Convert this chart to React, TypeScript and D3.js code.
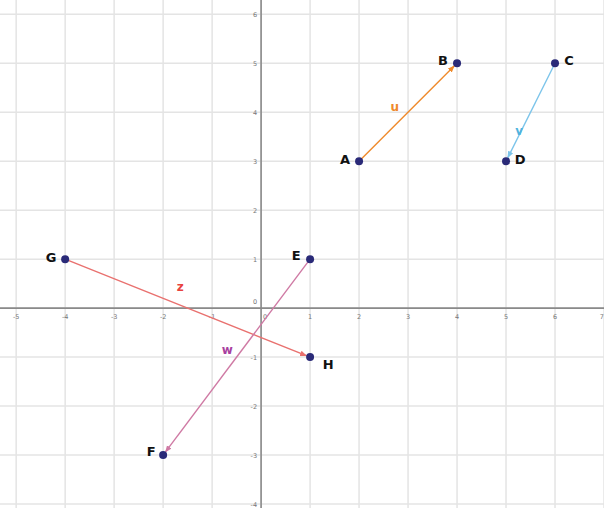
import * as d3 from 'd3';

// points
const pointNames = ['A', 'B', 'C', 'D', 'E', 'F', 'G', 'H'];
const pointX = [2, 4, 6, 5, 1, -2, -4, 1];
const pointY = [3, 5, 5, 3, 1, -3, 1, -1];
// label offsets in px (dx, dy) around each point
const labelDx = [-14, -14, 14, 14, -14, -12, -14, 18];
const labelDy = [-1, -2, -2, -1, -3, -3, -1, 8];

// vectors: name, from, to, colour, label position
const vecNames = ['u', 'v', 'z', 'w'];
const vecFrom = ['A', 'C', 'G', 'E'];
const vecTo = ['B', 'D', 'H', 'F'];
const vecColors = ['#ef8a2b', '#7cc4ea', '#e9716f', '#cf7aa4'];
const vecLabelColors = ['#ef8a2b', '#4fb3de', '#e8433e', '#a83fa0'];
const vecLabelX = [2.73, 5.27, -1.65, -0.69];
const vecLabelY = [4.1, 3.6, 0.43, -0.86];

const xTicks = d3.range(-5, 8);
const yTicks = d3.range(-4, 7);

const W = 604;
const H = 508;

export default function App() {
  const x = d3.scaleLinear().domain([-5.33, 7.0]).range([0, W]);
  const y = d3.scaleLinear().domain([6.29, -4.08]).range([0, H]);
  const idx = (n: string) => pointNames.indexOf(n);

  return (
    <>
      <style>{`body{margin:0}`}</style>
      <svg width={W} height={H} style={{ display: 'block', fontFamily: 'DejaVu Sans, sans-serif' }}>
        <rect width={W} height={H} fill="#fff" />
        <defs>
          {vecColors.map((c, i) => (
            <marker key={i} id={`arr${i}`} viewBox="0 0 10 10" refX="9" refY="5" markerWidth="5" markerHeight="5" orient="auto">
              <path d="M0,1 L10,5 L0,9 z" fill={c} />
            </marker>
          ))}
        </defs>
        {/* grid */}
        {xTicks.map((t) => (
          <line key={'gx' + t} x1={x(t)} x2={x(t)} y1={0} y2={H} stroke="#e4e4e4" strokeWidth={1.5} />
        ))}
        {yTicks.map((t) => (
          <line key={'gy' + t} x1={0} x2={W} y1={y(t)} y2={y(t)} stroke="#e4e4e4" strokeWidth={1.5} />
        ))}
        {/* axes */}
        <line x1={0} x2={W} y1={y(0)} y2={y(0)} stroke="#8a8a8a" strokeWidth={1.6} />
        <line x1={x(0)} x2={x(0)} y1={0} y2={H} stroke="#8a8a8a" strokeWidth={1.6} />
        {xTicks.map((t) => (
          <text key={'tx' + t} x={x(t) + (t === 0 ? 4 : 0)} y={y(0) + 11} fontSize={6.5} fill="#777"
            textAnchor={t === 7 ? 'end' : 'middle'}>
            {t}
          </text>
        ))}
        {yTicks.map((t) => (
          <text key={'ty' + t} x={x(0) - 4} y={y(t) + (t === 0 ? -4 : 2.5)} fontSize={6.5} fill="#777" textAnchor="end">
            {t}
          </text>
        ))}
        {/* vectors */}
        {vecNames.map((n, i) => {
          const a = idx(vecFrom[i]);
          const b = idx(vecTo[i]);
          const x1 = x(pointX[a]);
          const y1 = y(pointY[a]);
          const x2 = x(pointX[b]);
          const y2 = y(pointY[b]);
          const len = Math.hypot(x2 - x1, y2 - y1);
          const k = (len - 4) / len;
          return (
            <g key={n}>
              <line x1={x1} y1={y1} x2={x1 + (x2 - x1) * k} y2={y1 + (y2 - y1) * k} stroke={vecColors[i]} strokeWidth={1.4} markerEnd={`url(#arr${i})`} />
              <text x={x(vecLabelX[i])} y={y(vecLabelY[i])} fontSize={12} fontWeight="bold" fill={vecLabelColors[i]} textAnchor="middle" dominantBaseline="middle">
                {n}
              </text>
            </g>
          );
        })}
        {/* points */}
        {pointNames.map((n, i) => (
          <g key={n}>
            <circle cx={x(pointX[i])} cy={y(pointY[i])} r={4} fill="#2a2a78" />
            <text x={x(pointX[i]) + labelDx[i]} y={y(pointY[i]) + labelDy[i]} fontSize={13} fontWeight="bold" fill="#111" textAnchor="middle" dominantBaseline="middle">
              {n}
            </text>
          </g>
        ))}
      </svg>
    </>
  );
}
